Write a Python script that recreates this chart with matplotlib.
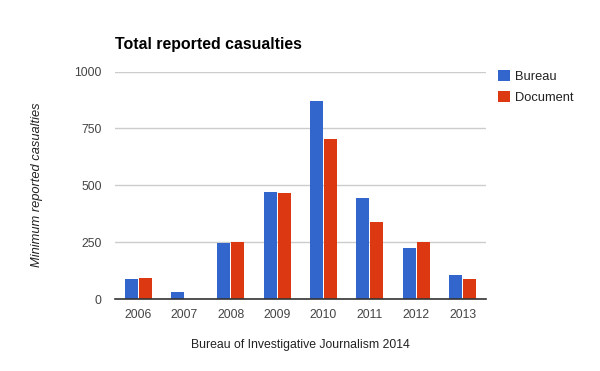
import matplotlib
matplotlib.use("Agg")
import matplotlib.pyplot as plt
import numpy as np

plt.rcParams['font.family'] = ['Liberation Sans', 'DejaVu Sans']

years = ["2006", "2007", "2008", "2009", "2010", "2011", "2012", "2013"]
bureau = [88, 31, 246, 470, 870, 444, 224, 105]
document = [92, 0, 250, 466, 703, 338, 250, 88]
yticks = [0, 250, 500, 750, 1000]

blue = "#3366cc"
red = "#dc3912"

fig = plt.figure(figsize=(6.0, 3.71), dpi=100)
ax = fig.add_axes([115/600, 72/371, 370.7/600, 227.5/371])

x = np.arange(len(years))
w = 0.28
ax.bar(x - w/2 - 0.01, bureau, width=w, color=blue, label="Bureau", zorder=3)
ax.bar(x + w/2 + 0.01, document, width=w, color=red, label="Document", zorder=3)

ax.set_xlim(-0.5, len(years) - 0.5)
ax.set_ylim(0, 1000)
ax.set_yticks(yticks)
ax.set_yticklabels([str(v) for v in yticks])
ax.set_xticks(x)
ax.set_xticklabels(years)
ax.grid(axis='y', color="#cccccc", linewidth=1, zorder=0)
ax.set_axisbelow(True)
for s in ['top', 'right', 'left']:
    ax.spines[s].set_visible(False)
ax.spines['bottom'].set_color("#333333")
ax.spines['bottom'].set_linewidth(1.2)
ax.spines['bottom'].set_zorder(4)
ax.tick_params(axis='both', length=0, labelsize=8.8, colors="#444444")
ax.tick_params(axis='x', pad=7)
ax.tick_params(axis='y', pad=9.5)

fig.text(115/600, 1 - 45/371, "Total reported casualties", fontsize=11.4,
         fontweight='bold', color="#000000", va='center', ha='left')
fig.text(37/600, 1 - 185/371, "Minimum reported casualties", fontsize=9.3,
         style='italic', color="#222222", rotation=90, va='center', ha='center')
fig.text(300/600, 1 - 345/371, "Bureau of Investigative Journalism 2014", fontsize=8.8,
         color="#222222", va='center', ha='center')

leg = ax.legend(loc='upper left', bbox_to_anchor=(498/600, 1 - 70/371),
                bbox_transform=fig.transFigure, frameon=False, fontsize=9.3,
                handlelength=0.95, handleheight=0.95, handletextpad=0.4,
                labelspacing=0.6, borderpad=0, borderaxespad=0)
for t in leg.get_texts():
    t.set_color("#222222")

fig.savefig("out.png", dpi=100)
